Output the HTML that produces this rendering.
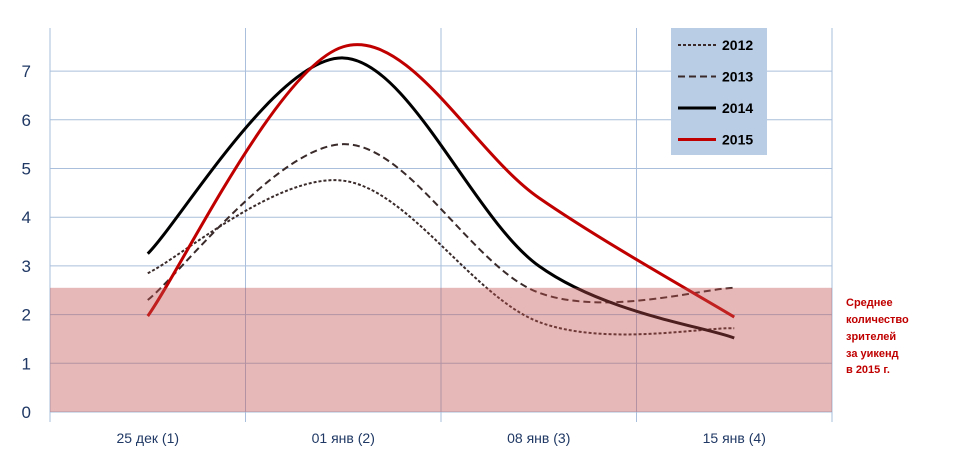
<!DOCTYPE html>
<html><head><meta charset="utf-8"><style>
body{margin:0;background:#fff;}
svg{display:block;font-family:"Liberation Sans",Arial,sans-serif;}
</style></head><body>
<svg id="chart" width="960" height="450" viewBox="0 0 960 450">
<g id="grid"></g>
<g id="series"></g>
<rect id="band" fill="#c0504d" fill-opacity="0.4"></rect>
<g id="axes"></g>
<g>
<rect x="671" y="28" width="96" height="127" fill="#b9cde5"/>
<g id="legend"></g>
</g>
<text fill="#c00000" font-size="11" font-weight="bold" font-family="Liberation Sans, sans-serif">
<tspan x="846" y="306">Среднее</tspan>
<tspan x="846" y="323">количество</tspan>
<tspan x="846" y="340">зрителей</tspan>
<tspan x="846" y="357">за уикенд</tspan>
<tspan x="846" y="373">в 2015 г.</tspan>
</text>
</svg>
<script>
const categories = ["25 дек (1)", "01 янв (2)", "08 янв (3)", "15 янв (4)"];
const yTicks = [0,1,2,3,4,5,6,7];
const seriesNames = ["2012","2013","2014","2015"];
const s2012 = [2.85, 4.75, 1.85, 1.72];
const s2013 = [2.3, 5.5, 2.45, 2.55];
const s2014 = [3.25, 7.27, 3.0, 1.52];
const s2015 = [1.97, 7.5, 4.4, 1.95];
const bandValue = 2.55;

const NS="http://www.w3.org/2000/svg";
const L=50,R=832,T=20,Y0=412,unit=48.7;
const bw=(R-L)/categories.length;
const x=i=>L+bw*(i+0.5);
const y=v=>Y0-v*unit;
function mk(tag,attrs,parent){const e=document.createElementNS(NS,tag);for(const k in attrs)e.setAttribute(k,attrs[k]);parent.appendChild(e);return e;}
const grid=document.getElementById('grid'),axes=document.getElementById('axes'),ser=document.getElementById('series');
yTicks.forEach(t=>{
  const gl=mk('line',{x1:L,x2:R,y1:y(t),y2:y(t),stroke:'#a9bfdc','stroke-width':1},grid);
  
  
  const tx=mk('text',{x:L-19,y:y(t)+6,'text-anchor':'end','font-size':17,fill:'#1f3864'},axes);
  tx.textContent=t;
  
  
});
for(let i=0;i<=categories.length;i++){
  const gx=L+bw*i;
  const vl=mk('line',{x1:gx,x2:gx,y1:T+8,y2:Y0+10,stroke:'#a9bfdc','stroke-width':1},grid);
  
  
}
categories.forEach((c,i)=>{
  const tx=mk('text',{x:x(i),y:443,'text-anchor':'middle','font-size':14,fill:'#1f3864'},axes);
  tx.textContent=c;
  
  
});
const band=document.getElementById('band');
band.setAttribute('x',L);band.setAttribute('width',R-L);
band.setAttribute('y',y(bandValue));band.setAttribute('height',Y0-y(bandValue));
function smooth(vals){
  const p=vals.map((v,i)=>[x(i),y(v)]);
  let d=`M${p[0][0]},${p[0][1]}`;
  for(let i=0;i<p.length-1;i++){
    const p0=p[Math.max(0,i-1)],p1=p[i],p2=p[i+1],p3=p[Math.min(p.length-1,i+2)];
    const c1=[p1[0]+(p2[0]-p0[0])/6,p1[1]+(p2[1]-p0[1])/6];
    const c2=[p2[0]-(p3[0]-p1[0])/6,p2[1]-(p3[1]-p1[1])/6];
    d+=` C${c1[0]},${c1[1]} ${c2[0]},${c2[1]} ${p2[0]},${p2[1]}`;
  }
  return d;
}
const styles=[{c:'#3a2a2a',w:2,da:'3,2'},{c:'#3a2a2a',w:2,da:'7,4'},{c:'#000',w:3,da:''},{c:'#c00000',w:3,da:''}];
[s2012,s2013,s2014,s2015].forEach((s,k)=>{
  const st=styles[k];
  const p=mk('path',{d:smooth(s),fill:'none',stroke:st.c,'stroke-width':st.w,'stroke-dasharray':st.da},ser);
  
  
});
const lg=document.getElementById('legend');
seriesNames.forEach((n,k)=>{
  const st=styles[k];const ly=45+k*31.5;
  const ln=mk('line',{x1:678,x2:716,y1:ly,y2:ly,stroke:st.c,'stroke-width':st.w,'stroke-dasharray':st.da},lg);
  
  
  const t=mk('text',{x:722,y:ly+5,'font-size':14,'font-weight':'bold',fill:'#000'},lg);
  t.textContent=n;
  
  
});
</script>
</body></html>
